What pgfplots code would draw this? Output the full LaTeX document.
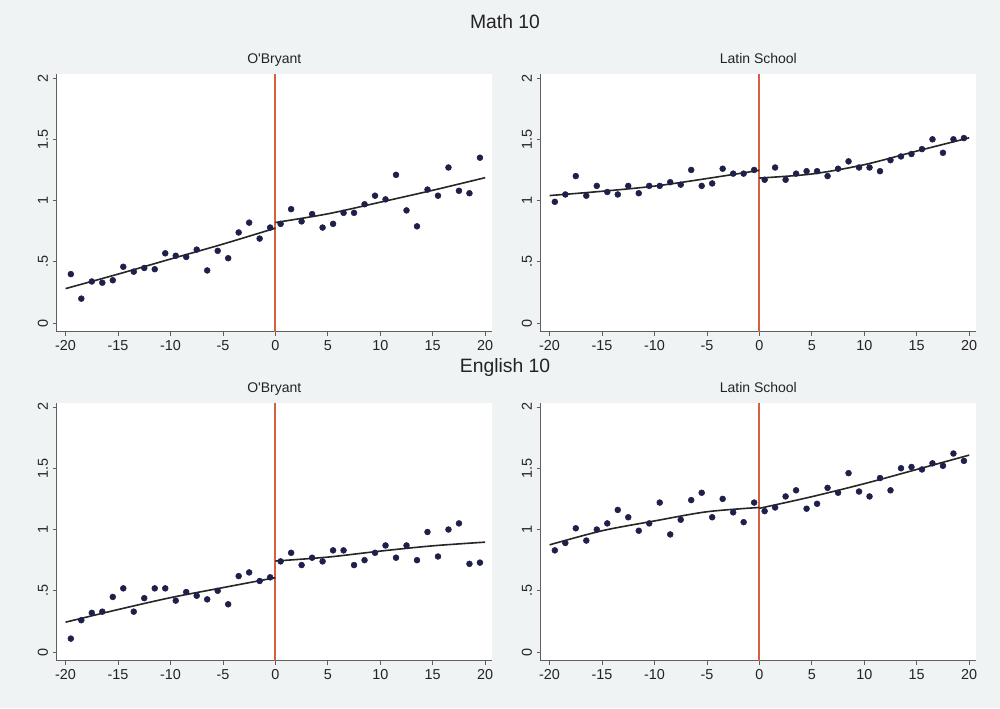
\documentclass[border=0pt]{standalone}
\usepackage{fontspec}
\setmainfont{Liberation Sans}
\usepackage{pgfplots}
\pgfplotsset{compat=1.18}

\definecolor{bgc}{RGB}{239,243,243}
\definecolor{dotc}{RGB}{30,32,74}
\definecolor{cutoffred}{RGB}{214,96,66}
\definecolor{axc}{RGB}{95,95,95}
\definecolor{txtc}{RGB}{35,35,35}

\pgfplotsset{
  panel/.style={
    scale only axis, width=326.5pt, height=193.5pt,
    xmin=-20.85, xmax=20.65, ymin=-0.07, ymax=2.035,
    axis x line*=bottom, axis y line*=left,
    axis line style={draw=axc, line width=0.6pt, -},
    tick align=outside, major tick length=3pt,
    tick style={draw=axc, line width=0.6pt},
    xtick={-20,-15,...,20}, xticklabels={-20,-15,-10,-5,0,5,10,15,20},
    ytick={0,0.5,1,1.5,2}, yticklabels={0,.5,1,1.5,2},
    ticklabel style={font=\fontsize{10.8}{12}\selectfont, text=txtc},
    yticklabel style={rotate=90, anchor=south},
    axis background/.style={fill=white},
    title style={font=\fontsize{10.5}{12}\selectfont, text=txtc,
      at={(0.5,1)}, anchor=base, yshift=1.3pt},
    clip=false,
  },
  dots/.style={only marks, mark=*, mark size=2.2pt,
    mark options={fill=dotc, draw=dotc}},
  fitline/.style={draw=black!85, line width=1.2pt, smooth, no marks},
  cutoff/.style={cutoffred, line width=1.5pt, mark=none, forget plot},
}

\begin{document}
\begin{tikzpicture}
\fill[bgc] (0,0) rectangle (750pt,531pt);
\useasboundingbox (0,0) rectangle (750pt,531pt);

\node[font=\fontsize{14.5}{17}\selectfont, text=txtc, anchor=base] at (378.75pt,509.3pt) {Math 10};
\node[font=\fontsize{14.5}{17}\selectfont, text=txtc, anchor=base] at (378.75pt,251.6pt) {English 10};

% Math 10, O'Bryant
\begin{axis}[panel, at={(42.5pt,282.2pt)}, anchor=south west, title={O\textquotesingle Bryant}]
\addplot[cutoff] coordinates {(0,-0.07) (0,2.035)};
\addplot[dots] coordinates {
(-19.5,0.40) (-18.5,0.20) (-17.5,0.34) (-16.5,0.33) (-15.5,0.35)
(-14.5,0.46) (-13.5,0.42) (-12.5,0.45) (-11.5,0.44) (-10.5,0.57)
(-9.5,0.55) (-8.5,0.54) (-7.5,0.60) (-6.5,0.43) (-5.5,0.59)
(-4.5,0.53) (-3.5,0.74) (-2.5,0.82) (-1.5,0.69) (-0.5,0.78)
(0.5,0.81) (1.5,0.93) (2.5,0.83) (3.5,0.89) (4.5,0.78)
(5.5,0.81) (6.5,0.90) (7.5,0.90) (8.5,0.97) (9.5,1.04)
(10.5,1.01) (11.5,1.21) (12.5,0.92) (13.5,0.79) (14.5,1.09)
(15.5,1.04) (16.5,1.27) (17.5,1.08) (18.5,1.06) (19.5,1.35)};
\addplot[fitline] coordinates {(-20,0.282) (-15,0.400) (-10,0.523) (-5,0.645) (0,0.775)};
\addplot[fitline] coordinates {(0,0.821) (5,0.892) (10,0.987) (15,1.084) (20,1.187)};
\end{axis}

% Math 10, Latin School
\begin{axis}[panel, at={(405.5pt,282.2pt)}, anchor=south west, title={Latin School}]
\addplot[cutoff] coordinates {(0,-0.07) (0,2.035)};
\addplot[dots] coordinates {
(-19.5,0.99) (-18.5,1.05) (-17.5,1.20) (-16.5,1.04) (-15.5,1.12)
(-14.5,1.07) (-13.5,1.05) (-12.5,1.12) (-11.5,1.06) (-10.5,1.12)
(-9.5,1.12) (-8.5,1.15) (-7.5,1.13) (-6.5,1.25) (-5.5,1.12)
(-4.5,1.14) (-3.5,1.26) (-2.5,1.22) (-1.5,1.22) (-0.5,1.25)
(0.5,1.17) (1.5,1.27) (2.5,1.17) (3.5,1.22) (4.5,1.24)
(5.5,1.24) (6.5,1.20) (7.5,1.26) (8.5,1.32) (9.5,1.27)
(10.5,1.27) (11.5,1.24) (12.5,1.33) (13.5,1.36) (14.5,1.38)
(15.5,1.42) (16.5,1.50) (17.5,1.39) (18.5,1.50) (19.5,1.51)};
\addplot[fitline] coordinates {(-20,1.041) (-15,1.076) (-10,1.118) (-5,1.180) (0,1.247)};
\addplot[fitline] coordinates {(0,1.184) (5,1.217) (10,1.293) (15,1.404) (20,1.512)};
\end{axis}

% English 10, O'Bryant
\begin{axis}[panel, at={(42.5pt,35.5pt)}, anchor=south west, title={O\textquotesingle Bryant}]
\addplot[cutoff] coordinates {(0,-0.07) (0,2.035)};
\addplot[dots] coordinates {
(-19.5,0.11) (-18.5,0.26) (-17.5,0.32) (-16.5,0.33) (-15.5,0.45)
(-14.5,0.52) (-13.5,0.33) (-12.5,0.44) (-11.5,0.52) (-10.5,0.52)
(-9.5,0.42) (-8.5,0.49) (-7.5,0.46) (-6.5,0.43) (-5.5,0.50)
(-4.5,0.39) (-3.5,0.62) (-2.5,0.65) (-1.5,0.58) (-0.5,0.61)
(0.5,0.74) (1.5,0.81) (2.5,0.71) (3.5,0.77) (4.5,0.74)
(5.5,0.83) (6.5,0.83) (7.5,0.71) (8.5,0.75) (9.5,0.81)
(10.5,0.87) (11.5,0.77) (12.5,0.87) (13.5,0.75) (14.5,0.98)
(15.5,0.78) (16.5,1.00) (17.5,1.05) (18.5,0.72) (19.5,0.73)};
\addplot[fitline] coordinates {(-20,0.244) (-15,0.347) (-10,0.444) (-5,0.526) (0,0.607)};
\addplot[fitline] coordinates {(0,0.743) (5,0.775) (10,0.824) (15,0.867) (20,0.897)};
\end{axis}

% English 10, Latin School
\begin{axis}[panel, at={(405.5pt,35.5pt)}, anchor=south west, title={Latin School}]
\addplot[cutoff] coordinates {(0,-0.07) (0,2.035)};
\addplot[dots] coordinates {
(-19.5,0.83) (-18.5,0.89) (-17.5,1.01) (-16.5,0.91) (-15.5,1.00)
(-14.5,1.05) (-13.5,1.16) (-12.5,1.10) (-11.5,0.99) (-10.5,1.05)
(-9.5,1.22) (-8.5,0.96) (-7.5,1.08) (-6.5,1.24) (-5.5,1.30)
(-4.5,1.10) (-3.5,1.25) (-2.5,1.14) (-1.5,1.06) (-0.5,1.22)
(0.5,1.15) (1.5,1.18) (2.5,1.27) (3.5,1.32) (4.5,1.17)
(5.5,1.21) (6.5,1.34) (7.5,1.30) (8.5,1.46) (9.5,1.31)
(10.5,1.27) (11.5,1.42) (12.5,1.32) (13.5,1.50) (14.5,1.51)
(15.5,1.49) (16.5,1.54) (17.5,1.52) (18.5,1.62) (19.5,1.56)};
\addplot[fitline] coordinates {(-20,0.875) (-15,0.990) (-10,1.070) (-5,1.145) (0,1.180)};
\addplot[fitline] coordinates {(0,1.173) (5,1.268) (10,1.374) (15,1.490) (20,1.607)};
\end{axis}
\end{tikzpicture}
\end{document}
